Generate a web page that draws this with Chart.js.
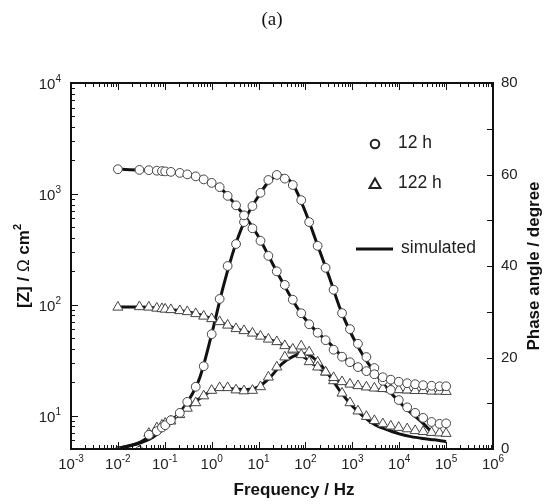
<!DOCTYPE html>
<html>
<head>
<meta charset="utf-8">
<script src="https://cdn.jsdelivr.net/npm/chart.js@4.4.1/dist/chart.umd.min.js"></script>
<style>
  html, body { margin: 0; padding: 0; background: #fff; }
  canvas { display: block; }
</style>
</head>
<body>
<canvas id="eis" width="544" height="504"></canvas>
<script>
// measured frequencies (Hz)
const FREQ = [0.01, 0.0288, 0.0457, 0.0676, 0.0871, 0.102, 0.135, 0.209, 0.302, 0.457,
  0.676, 1, 1.48, 2.19, 3.31, 4.9, 7.41, 11.0, 16.2, 24.5,
  36.3, 53.7, 81.3, 120, 182, 269, 398, 603, 891, 1318,
  1995, 2951, 4467, 6607, 9772, 14791, 21878, 32359, 48978, 72444, 100000];

const Z_12H = [1669, 1645, 1635, 1618, 1605, 1595, 1579, 1546, 1499, 1438,
  1351, 1256, 1150, 959, 788, 640, 489, 377, 276, 200,
  151, 111, 83.8, 66.7, 55.9, 47.9, 39.3, 34.0, 30.3, 27.4,
  25.2, 23.6, 22.2, 21.1, 20.2, 19.6, 19.2, 18.8, 18.6, 18.4, 18.4];

const PHASE_12H = [-0.6, -0.4, 3.1, 3.9, 4.7, 5.2, 6.3, 7.9, 10.3, 13.6,
  18.1, 25.1, 32.8, 40.0, 44.8, 49.6, 53.1, 56.0, 58.8, 59.9,
  59.1, 57.7, 54.4, 49.6, 44.4, 39.6, 34.8, 29.7, 26.2, 23.0,
  20.1, 17.7, 14.9, 12.9, 10.7, 9.1, 7.9, 6.8, 5.9, 5.5, 5.6];

const Z_122H = [95.0, 95.9, 95.0, 93.0, 92.0, 91.1, 90.2, 88.3, 86.5, 83.0,
  78.8, 74.8, 70.3, 65.4, 60.8, 58.3, 55.4, 52.0, 48.9, 46.4,
  42.7, 39.7, 35.4, 30.6, 27.4, 24.7, 22.0, 20.2, 19.2, 18.6,
  18.1, 17.7, 17.5, 17.3, 17.1, 17.0, 16.8, 16.8, 16.6, 16.6, 16.5];

const PHASE_122H = [-0.6, -0.4, 3.4, 4.6, 5.2, 5.6, 6.1, 7.5, 8.9, 10.1,
  11.6, 12.8, 13.4, 13.4, 12.9, 12.7, 12.8, 13.6, 15.7, 17.9,
  20.1, 21.6, 22.5, 21.2, 19.0, 16.8, 14.9, 12.2, 10.1, 8.3,
  7.1, 6.2, 5.5, 5.0, 4.7, 4.4, 4.0, 3.8, 3.6, 3.5, 3.4];

// simulated (fitted) curves
const SIM_FREQ = [0.01, 0.0178, 0.0316, 0.0562, 0.1, 0.178, 0.316, 0.562, 1, 1.78,
  3.16, 5.62, 10, 17.8, 31.6, 56.2, 100, 178, 316, 562,
  1000, 1778, 3162, 5623, 10000, 17783, 31623, 56234, 100000];

const SIM_Z_12H = [1670, 1652, 1638, 1625, 1595, 1559, 1493, 1385, 1256, 1064,
  804, 595, 410, 257, 163, 106, 74.0, 56.5, 45.5, 35.1,
  29.4, 25.5, 23.2, 21.5, 20.1, 19.5, 19.0, 18.6, 18.4];

const SIM_PHASE_12H = [0.2, 0.7, 1.4, 2.6, 4.6, 7.2, 10.5, 15.7, 25.1, 35.6,
  44.4, 50.9, 55.3, 58.8, 59.7, 57.5, 51.8, 44.8, 37.8, 30.4,
  24.7, 20.1, 16.4, 13.1, 10.3, 7.9, 5.7, 3.0, null];

const SIM_Z_122H = [95.0, 95.5, 95.3, 94.0, 91.1, 89.0, 86.1, 81.3, 74.8, 67.7,
  61.0, 57.1, 52.8, 48.4, 43.9, 38.9, 33.0, 27.5, 23.4, 20.0,
  18.6, 17.7, 17.1, 16.8, 16.5, 16.4, 16.3, 16.2, 16.1];

const SIM_PHASE_122H = [0.2, 0.7, 1.6, 3.3, 5.2, 7.2, 9.2, 11.1, 12.7, 13.3,
  13.1, 13.0, 13.6, 15.7, 18.6, 20.3, 20.8, 19.2, 16.2, 12.5,
  9.4, 7.0, 5.2, 4.2, 3.3, 2.7, 2.3, 2.0, 1.6];

const X_DECADES = [-3, -2, -1, 0, 1, 2, 3, 4, 5, 6];
const Y_DECADES = [1, 2, 3, 4];
const PHASE_TICKS = [0, 20, 40, 60, 80];

const FONT = '"Liberation Sans", Arial, sans-serif';

function pts(xs, ys) {
  return xs.map((f, i) => ({ x: f, y: ys[i] }));
}

function markers(label, ys, axis, style, r) {
  return {
    label: label,
    data: pts(FREQ, ys),
    yAxisID: axis,
    showLine: false,
    pointStyle: style,
    pointRadius: r,
    pointBorderWidth: 1,
    pointBorderColor: '#444',
    pointBackgroundColor: '#fff',
    order: 0
  };
}

function simLine(ys, axis) {
  return {
    label: 'simulated',
    data: pts(SIM_FREQ, ys),
    yAxisID: axis,
    borderColor: '#111',
    borderWidth: 3,
    pointRadius: 0,
    cubicInterpolationMode: 'monotone',
    spanGaps: false,
    order: 1
  };
}

// draws "10" with a raised exponent
function drawPow(ctx, exp, x, y, align) {
  ctx.font = '15px ' + FONT;
  const wb = ctx.measureText('10').width;
  ctx.font = '10px ' + FONT;
  const we = ctx.measureText(exp).width;
  let x0 = x;
  if (align === 'center') x0 = x - (wb + we) / 2;
  if (align === 'right') x0 = x - (wb + we);
  ctx.textAlign = 'left';
  ctx.textBaseline = 'alphabetic';
  ctx.font = '15px ' + FONT;
  ctx.fillText('10', x0, y);
  ctx.font = '10px ' + FONT;
  ctx.fillText(exp, x0 + wb, y - 7);
}

const framePlugin = {
  id: 'framePlugin',
  afterDraw(chart) {
    const { ctx, chartArea: a, scales } = chart;
    const sx = scales.x, sy = scales.y, sp = scales.y2;
    const seg = (x1, y1, x2, y2) => {
      ctx.beginPath(); ctx.moveTo(x1, y1); ctx.lineTo(x2, y2); ctx.stroke();
    };
    ctx.save();
    ctx.strokeStyle = '#111';
    ctx.lineWidth = 1;

    // x ticks, bottom and top, pointing inward
    X_DECADES.forEach(d => {
      for (let k = 1; k <= 9; k++) {
        const v = k * Math.pow(10, d);
        if (v > 1e6) break;
        const px = Math.round(sx.getPixelForValue(v)) + 0.5;
        const len = k === 1 ? 7 : 4;
        seg(px, a.bottom, px, a.bottom - len);
        seg(px, a.top, px, a.top + len);
      }
    });
    // left log ticks
    [0, 1, 2, 3].forEach(d => {
      for (let k = 1; k <= 9; k++) {
        const v = k * Math.pow(10, d);
        if (v < 5 || v > 1e4) continue;
        const py = Math.round(sy.getPixelForValue(v)) + 0.5;
        seg(a.left, py, a.left + (k === 1 ? 7 : 4), py);
      }
    });
    // right phase ticks
    for (let v = 0; v <= 80; v += 10) {
      const py = Math.round(sp.getPixelForValue(v)) + 0.5;
      seg(a.right, py, a.right - 6, py);
    }

    // frame
    ctx.lineWidth = 2;
    ctx.strokeStyle = '#111';
    ctx.strokeRect(a.left, a.top, a.right - a.left, a.bottom - a.top);

    // tick labels
    ctx.fillStyle = '#222';
    X_DECADES.forEach(d => {
      drawPow(ctx, String(d), sx.getPixelForValue(Math.pow(10, d)), a.bottom + 20, 'center');
    });
    Y_DECADES.forEach(d => {
      drawPow(ctx, String(d), a.left - 10, sy.getPixelForValue(Math.pow(10, d)) + 6, 'right');
    });
    ctx.font = '15px ' + FONT;
    ctx.textAlign = 'left';
    ctx.textBaseline = 'middle';
    PHASE_TICKS.forEach(v => {
      ctx.fillText(String(v), a.right + 8, sp.getPixelForValue(v));
    });

    // axis titles
    ctx.fillStyle = '#111';
    ctx.font = 'bold 17px ' + FONT;
    ctx.textAlign = 'center';
    ctx.textBaseline = 'alphabetic';
    ctx.fillText('Frequency / Hz', 294, 495);

    ctx.save();
    ctx.translate(539, (a.top + a.bottom) / 2);
    ctx.rotate(-Math.PI / 2);
    ctx.fillText('Phase angle / degree', 0, 0);
    ctx.restore();

    ctx.save();
    ctx.translate(29, (a.top + a.bottom) / 2);
    ctx.rotate(-Math.PI / 2);
    const parts = [
      ['[Z] / ', 'bold 17px ' + FONT, 0],
      ['\u03A9', '17px ' + FONT, 0],
      [' cm', 'bold 17px ' + FONT, 0],
      ['2', 'bold 11px ' + FONT, 8]
    ];
    let total = 0;
    parts.forEach(p => { ctx.font = p[1]; total += ctx.measureText(p[0]).width; });
    let cx = -total / 2;
    ctx.textAlign = 'left';
    parts.forEach(p => {
      ctx.font = p[1];
      ctx.fillText(p[0], cx, -p[2]);
      cx += ctx.measureText(p[0]).width;
    });
    ctx.restore();

    // legend
    ctx.strokeStyle = '#222';
    ctx.lineWidth = 2;
    ctx.beginPath(); ctx.arc(375, 144, 4.3, 0, Math.PI * 2); ctx.stroke();
    ctx.beginPath();
    ctx.moveTo(375, 178.5); ctx.lineTo(380.5, 188); ctx.lineTo(369.5, 188); ctx.closePath();
    ctx.stroke();
    ctx.lineWidth = 3;
    ctx.strokeStyle = '#111';
    seg(356, 249, 393, 249);
    ctx.fillStyle = '#222';
    ctx.font = '17.5px ' + FONT;
    ctx.textAlign = 'left';
    ctx.textBaseline = 'middle';
    ctx.fillText('12 h', 398, 143);
    ctx.fillText('122 h', 398, 183);
    ctx.fillText('simulated', 401, 248);
    ctx.restore();
  }
};

const ctx = document.getElementById('eis');

const chart = new Chart(ctx, {
  type: 'line',
  data: {
    datasets: [
      markers('12 h', Z_12H, 'y', 'circle', 4.4),
      markers('12 h phase', PHASE_12H, 'y2', 'circle', 4.4),
      markers('122 h', Z_122H, 'y', 'triangle', 5.8),
      markers('122 h phase', PHASE_122H, 'y2', 'triangle', 5.8),
      simLine(SIM_Z_12H, 'y'),
      simLine(SIM_PHASE_12H, 'y2'),
      simLine(SIM_Z_122H, 'y'),
      simLine(SIM_PHASE_122H, 'y2')
    ]
  },
  options: {
    responsive: false,
    animation: false,
    layout: { padding: 0 },
    plugins: {
      legend: { display: false },
      tooltip: { enabled: false },
      title: {
        display: true,
        text: '(a)',
        color: '#111',
        font: { family: '"Liberation Serif", "Times New Roman", serif', size: 19, weight: 'normal' },
        padding: { top: 9, bottom: 51.2 }
      }
    },
    scales: {
      x: {
        type: 'logarithmic',
        position: 'bottom',
        min: 0.001,
        max: 1e6,
        ticks: { display: false },
        grid: { display: false },
        border: { display: false },
        afterFit: s => { s.height = 55; }
      },
      y: {
        type: 'logarithmic',
        position: 'left',
        min: 5,
        max: 1e4,
        ticks: { display: false },
        grid: { display: false },
        border: { display: false },
        afterFit: s => { s.width = 71; }
      },
      y2: {
        type: 'linear',
        position: 'right',
        min: 0,
        max: 80,
        ticks: { display: false },
        grid: { display: false },
        border: { display: false },
        afterFit: s => { s.width = 51; }
      }
    }
  },
  plugins: [framePlugin]
});
</script>
</body>
</html>
